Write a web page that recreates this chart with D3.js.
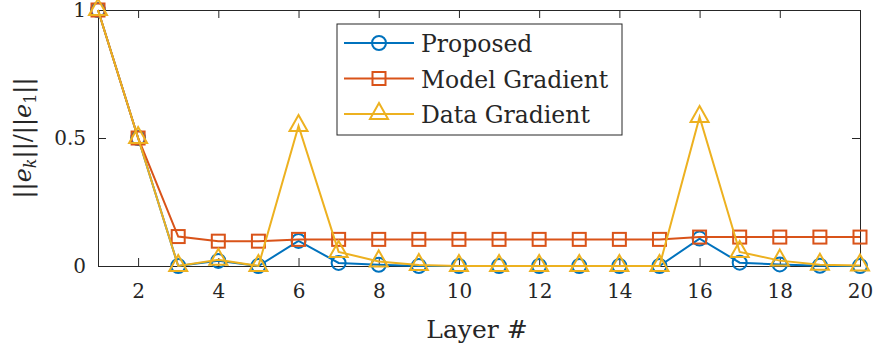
<!DOCTYPE html>
<html lang="en">
<meta charset="utf-8">
<style>
  body { margin: 0; background: #fff; }
  svg text { font-family: "DejaVu Serif", serif; fill: #262626; }
  .line { fill: none; stroke-width: 2px; }
</style>
<script src="https://d3js.org/d3.v7.min.js"></script>
<body>
<div id="d3"></div>
<script>
// data
const layers = d3.range(1, 21)
const proposed = [1, 0.5, 0, 0.02, 0, 0.098, 0.012, 0.005, 0, 0, 0, 0, 0, 0, 0, 0.107, 0.013, 0.006, 0.001, 0]
const modelGrad = [1, 0.5, 0.115, 0.097, 0.097, 0.104, 0.104, 0.104, 0.104, 0.104, 0.104, 0.104, 0.104, 0.104, 0.104, 0.113, 0.113, 0.113, 0.113, 0.113]
const dataGrad = [1, 0.5, 0, 0.024, 0, 0.547, 0.055, 0.018, 0.004, 0, 0, 0, 0, 0, 0, 0.582, 0.055, 0.021, 0.005, 0.002]
const xTicks = [2, 4, 6, 8, 10, 12, 14, 16, 18, 20]
const yTicks = [0, 0.5, 1]
const seriesNames = ["Proposed", "Model Gradient", "Data Gradient"]
const colors = ["#0072BD", "#D95319", "#EDB120"]
const symbols = ["circle", "square", "triangle"]

const W = 877, H = 351
const MARGIN = { LEFT: 98, RIGHT: 17, TOP: 10, BOTTOM: 85 }
const WIDTH = W - MARGIN.LEFT - MARGIN.RIGHT
const HEIGHT = H - MARGIN.TOP - MARGIN.BOTTOM

const svg = d3.select("#d3").append("svg")
  .attr("width", W)
  .attr("height", H)

const g = svg.append("g")
  .attr("transform", `translate(${MARGIN.LEFT}, ${MARGIN.TOP})`)

const x = d3.scaleLinear().domain([1, 20]).range([0, WIDTH])
const y = d3.scaleLinear().domain([0, 1]).range([HEIGHT, 0])

const axisColor = "#262626"
const TICK = 8

// axes, matlab style box with inward ticks
const xAxis = g.append("g").attr("transform", `translate(0, ${HEIGHT})`)
  .call(d3.axisBottom(x).tickValues(xTicks).tickSizeInner(-TICK).tickSizeOuter(0).tickPadding(18))
const xTop = g.append("g")
  .call(d3.axisTop(x).tickValues(xTicks).tickSizeInner(-TICK).tickSizeOuter(0).tickFormat(""))
const yAxis = g.append("g")
  .call(d3.axisLeft(y).tickValues(yTicks).tickFormat(d3.format("")).tickSizeInner(-TICK).tickSizeOuter(0).tickPadding(12))
const yRight = g.append("g").attr("transform", `translate(${WIDTH}, 0)`)
  .call(d3.axisRight(y).tickValues(yTicks).tickSizeInner(-TICK).tickSizeOuter(0).tickFormat(""))

;[xAxis, xTop, yAxis, yRight].forEach(a => {
  a.attr("font-family", null)
  a.select(".domain").attr("stroke", axisColor).attr("stroke-width", 1)
  a.selectAll(".tick line").attr("stroke", axisColor)
  a.selectAll(".tick text").attr("font-size", 20).attr("fill", axisColor)
})

// axis labels
g.append("text")
  .attr("x", WIDTH / 2 - 2)
  .attr("y", HEIGHT + 72)
  .attr("text-anchor", "middle")
  .attr("font-size", 25)
  .text("Layer #")

const yl = svg.append("text")
  .attr("transform", `translate(31, ${MARGIN.TOP + y(0.5)}) rotate(-90)`)
  .attr("text-anchor", "middle")
  .attr("font-size", 24)
yl.append("tspan").text("||")
yl.append("tspan").attr("font-style", "italic").text("e")
yl.append("tspan").attr("font-style", "italic").attr("font-size", 16).attr("dy", 5).text("k")
yl.append("tspan").attr("dy", -5).text("||/||")
yl.append("tspan").attr("font-style", "italic").text("e")
yl.append("tspan").attr("font-size", 16).attr("dy", 5).text("1")
yl.append("tspan").attr("dy", -5).text("||")

// markers
function marker(sel, kind, color) {
  if (kind === "circle") {
    sel.append("circle").attr("r", 7)
      .attr("fill", "none").attr("stroke", color).attr("stroke-width", 2)
  } else if (kind === "square") {
    sel.append("rect").attr("x", -6.5).attr("y", -6.5).attr("width", 13).attr("height", 13)
      .attr("fill", "none").attr("stroke", color).attr("stroke-width", 2)
  } else {
    sel.append("path").attr("d", "M0,-11L9,5L-9,5Z")
      .attr("fill", "none").attr("stroke", color).attr("stroke-width", 2)
  }
}

const series = [proposed, modelGrad, dataGrad]
const line = d3.line().x((d, i) => x(layers[i])).y(d => y(d))

series.forEach((vals, s) => {
  g.append("path")
    .attr("class", "line")
    .attr("stroke", colors[s])
    .attr("d", line(vals))
  g.append("g").selectAll("g")
    .data(vals)
    .join("g")
    .attr("transform", (d, i) => `translate(${x(layers[i])}, ${y(d)})`)
    .each(function () { marker(d3.select(this), symbols[s], colors[s]) })
})

// legend
const lg = svg.append("g").attr("transform", "translate(337, 24)")
lg.append("rect").attr("width", 285).attr("height", 111)
  .attr("fill", "#fff").attr("stroke", axisColor).attr("stroke-width", 1)
seriesNames.forEach((name, s) => {
  const row = lg.append("g").attr("transform", `translate(0, ${19 + s * 35.5})`)
  row.append("line").attr("x1", 7).attr("x2", 77)
    .attr("stroke", colors[s]).attr("stroke-width", 2)
  marker(row.append("g").attr("transform", "translate(42, 0)"), symbols[s], colors[s])
  row.append("text").attr("x", 84).attr("y", 9).attr("font-size", 23.5).text(name)
})
</script>
</body>
</html>
